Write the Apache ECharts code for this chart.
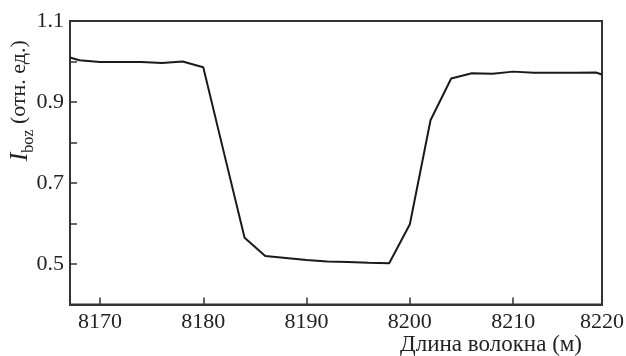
<!DOCTYPE html>
<html><head><meta charset="utf-8">
<script src="https://cdn.jsdelivr.net/npm/echarts@6/dist/echarts.min.js"></script>
<style>html,body{margin:0;padding:0;background:#fff}#c{width:626px;height:356px}</style>
</head><body><div id="c"></div>
<script>
// fibre length (m) and relative intensity
const lengths = [8167.1, 8168, 8170, 8172, 8174, 8176, 8178, 8180, 8182, 8184, 8186, 8188, 8190, 8192, 8194, 8196, 8198, 8200, 8202, 8204, 8206, 8208, 8210, 8212, 8214, 8216, 8218, 8218.6];
const intensity = [1.010, 1.003, 0.999, 0.999, 0.999, 0.996, 1.000, 0.986, 0.775, 0.565, 0.520, 0.515, 0.510, 0.506, 0.505, 0.503, 0.502, 0.598, 0.855, 0.958, 0.971, 0.970, 0.975, 0.972, 0.972, 0.972, 0.973, 0.968];
const xTicks = [8170, 8180, 8190, 8200, 8210];
const xLabels = [8170, 8180, 8190, 8200, 8210, 8218.6];
const yLabels = [0.5, 0.7, 0.9, 1.1];

const FONT = 'Liberation Serif';
const chart = echarts.init(document.getElementById('c'), null, {renderer: 'canvas'});
chart.setOption({
  animation: false,
  textStyle: {fontFamily: FONT},
  grid: {left: 70, right: 24, top: 21, bottom: 51.5, outerBoundsMode: 'none', containLabel: false,
    show: true, borderColor: '#333', borderWidth: 2, backgroundColor: 'transparent'},
  xAxis: {
    type: 'value', min: 8167.1, max: 8218.6,
    axisLine: {lineStyle: {color: '#333', width: 2}},
    axisTick: {inside: true, length: 7, customValues: xTicks, lineStyle: {color: '#333', width: 1.5}},
    axisLabel: {customValues: xLabels, color: '#222', fontFamily: FONT, fontSize: 22, margin: 7,
      formatter: v => String(Math.round(v / 10) * 10)},
    splitLine: {show: false},
    name: 'Длина волокна (м)', nameLocation: 'end', nameGap: -20, nameMoveOverlap: false,
    nameTextStyle: {color: '#222', fontFamily: FONT, fontSize: 23, align: 'right', verticalAlign: 'top', padding: [29, 0, 0, 0]}
  },
  yAxis: {
    type: 'value', min: 0.4, max: 1.1, interval: 0.1,
    axisLine: {lineStyle: {color: '#333', width: 2}},
    axisTick: {inside: true, length: 7, lineStyle: {color: '#333', width: 1.5}},
    axisLabel: {color: '#222', fontFamily: FONT, fontSize: 22, margin: 6,
      formatter: v => yLabels.some(l => Math.abs(l - v) < 1e-6) ? v.toFixed(1) : ''},
    splitLine: {show: false},
    name: '{i|I}{s|boz} (отн. ед.)', nameLocation: 'middle', nameRotate: 90, nameGap: 37, nameMoveOverlap: false,
    nameTextStyle: {color: '#222', fontFamily: FONT, fontSize: 22, padding: [0, 0, 0, 124],
      rich: {
        i: {fontStyle: 'italic', fontFamily: FONT, fontSize: 26, color: '#222', lineHeight: 28, verticalAlign: 'bottom'},
        s: {fontFamily: FONT, fontSize: 16, color: '#222', lineHeight: 28, verticalAlign: 'bottom', padding: [0, 0, -4, 0]}
      }}
  },
  series: [{
    type: 'line', data: lengths.map((x, i) => [x, intensity[i]]),
    showSymbol: false, lineStyle: {color: '#1a1a1a', width: 2}, clip: true
  }]
});
</script></body></html>
